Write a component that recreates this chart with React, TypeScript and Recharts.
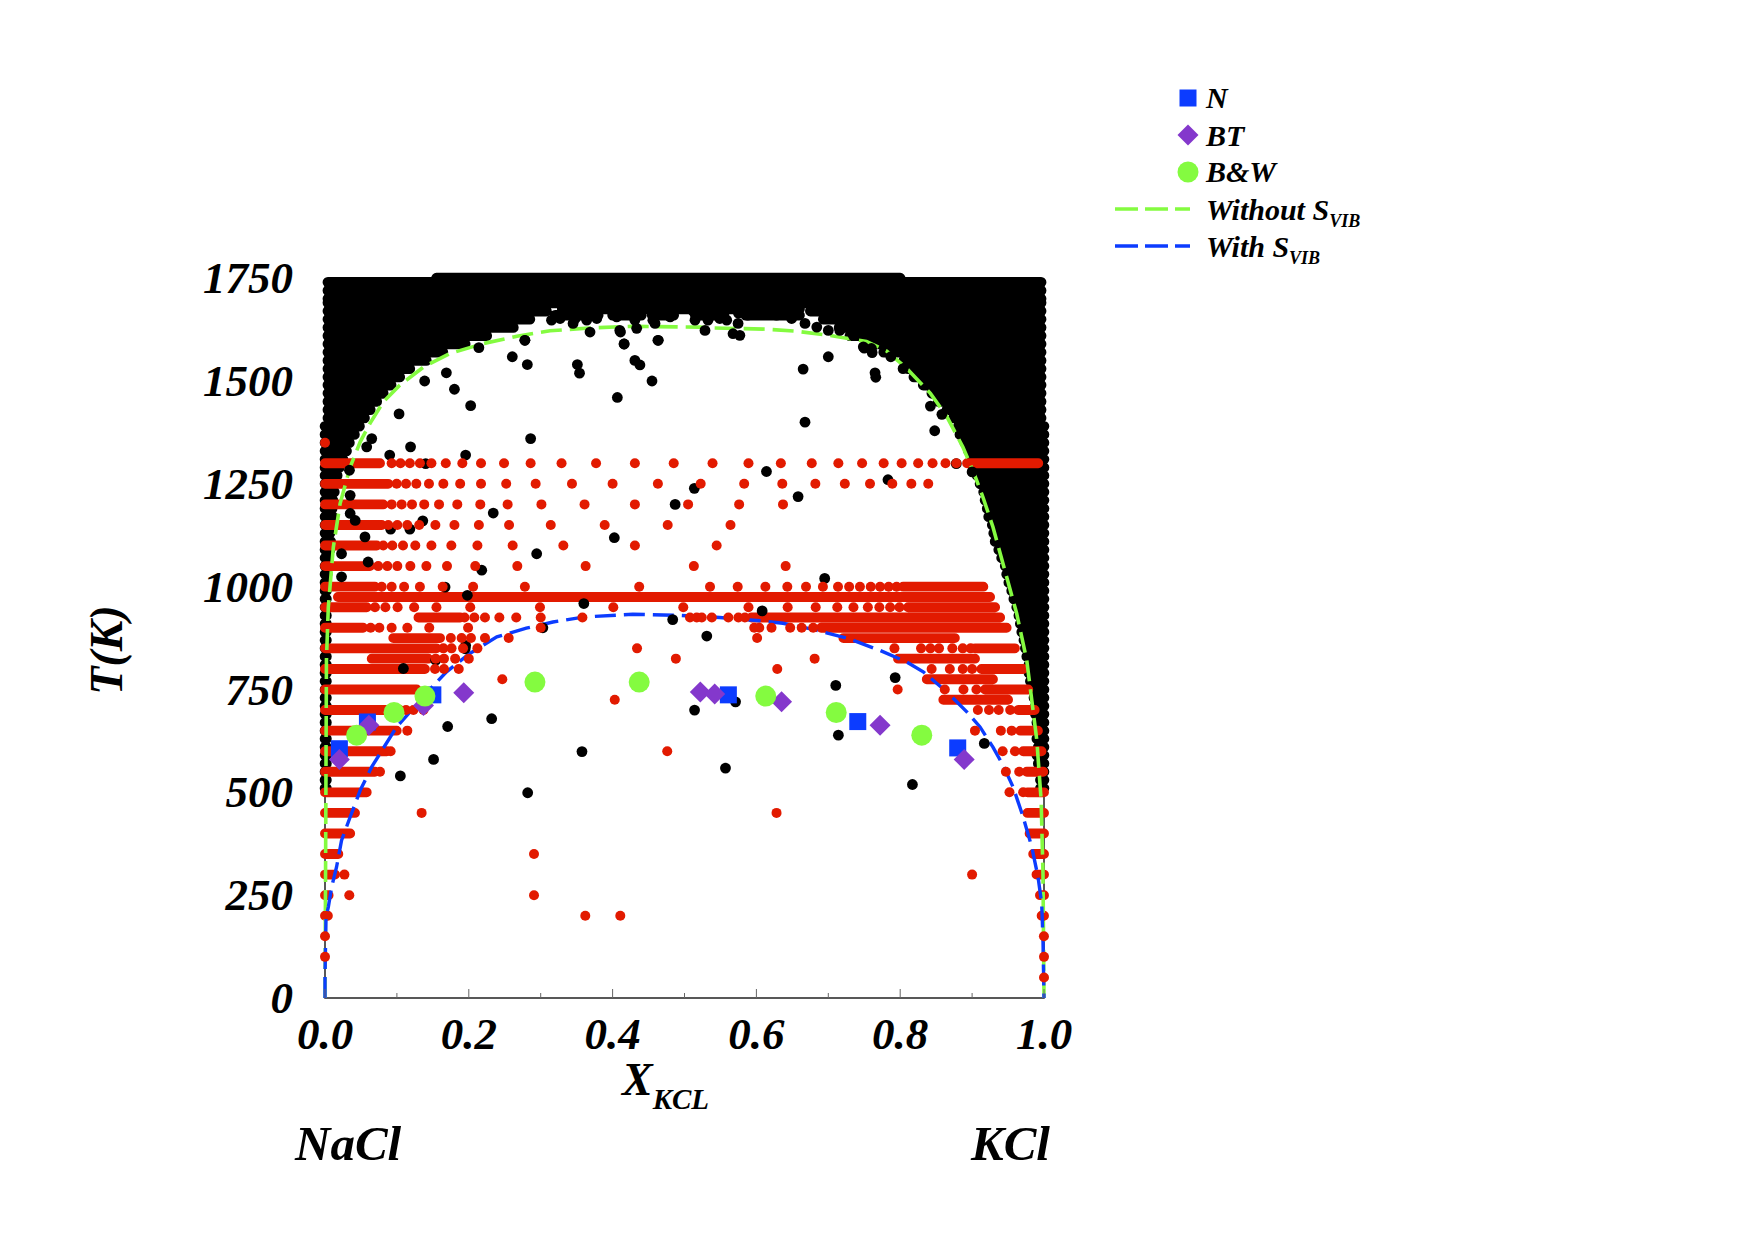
import React from 'react';
import { ComposedChart, Line, Scatter, XAxis, YAxis } from 'recharts';

const FONT = '"Liberation Serif", serif';
const BLACK = '#000000';
const RED = '#e21a00';
const BLUE = '#0c3cff';
const PURPLE = '#8438cc';
const GREEN = '#84fb40';

const xTicks = [0, 0.1, 0.2, 0.3, 0.4, 0.5, 0.6, 0.7, 0.8, 0.9, 1];
const yTicks = [0, 250, 500, 750, 1000, 1250, 1500, 1750];

// experimental points [x, T]
const nPoints = [[0.02, 606], [0.059, 671], [0.15, 737], [0.561, 737], [0.741, 672], [0.88, 608]];
const btPoints = [[0.02, 580], [0.061, 663], [0.137, 711], [0.193, 742], [0.522, 744], [0.542, 739], [0.635, 720], [0.772, 663], [0.889, 580]];
const bwPoints = [[0.044, 639], [0.096, 694], [0.139, 734], [0.292, 768], [0.437, 768], [0.613, 734], [0.711, 694], [0.83, 639]];

// phase boundaries [x, T]
const withoutSvib = [
  [0, 0], [0.001, 400], [0.002, 821], [0.0046, 950], [0.0116, 1096], [0.021, 1202], [0.035, 1291], [0.049, 1352], [0.0626, 1397],
  [0.081, 1449], [0.104, 1490], [0.137, 1534], [0.174, 1567], [0.22, 1591], [0.267, 1609], [0.313, 1622], [0.368, 1629],
  [0.428, 1633], [0.5216, 1631], [0.54, 1629], [0.614, 1626], [0.656, 1621], [0.702, 1611], [0.753, 1596], [0.781, 1573],
  [0.809, 1531], [0.842, 1470], [0.865, 1413], [0.887, 1340], [0.901, 1283], [0.915, 1218], [0.929, 1145], [0.948, 1024],
  [0.962, 935], [0.976, 821], [0.99, 627], [0.996, 481], [0.9986, 303], [1, 0],
];
const withSvib = [
  [0, 0], [0, 51], [0.0014, 197], [0.0046, 221], [0.0093, 270], [0.016, 318], [0.023, 383], [0.035, 440], [0.049, 505],
  [0.065, 562], [0.081, 607], [0.0997, 659], [0.118, 695], [0.141, 741], [0.169, 793], [0.2, 836], [0.239, 878], [0.28, 899],
  [0.317, 914], [0.359, 926], [0.428, 933], [0.4937, 930], [0.549, 925], [0.605, 917], [0.637, 911], [0.679, 896], [0.726, 875],
  [0.772, 845], [0.809, 817], [0.832, 793], [0.865, 744], [0.893, 695], [0.911, 659], [0.929, 610], [0.943, 566], [0.957, 513],
  [0.971, 440], [0.983, 367], [0.9917, 294], [0.9968, 230], [0.9986, 140], [1, 0],
];

// black (solid phase) rows [T, end of left block, start of right block]
const blackRowsUpper = [
  [1690, 0.33, 0.656], [1670, 0.308, 0.675], [1650, 0.285, 0.693], [1630, 0.262, 0.715], [1610, 0.225, 0.73], [1590, 0.195, 0.763],
  [1570, 0.164, 0.777], [1550, 0.141, 0.805], [1530, 0.118, 0.811], [1510, 0.104, 0.819], [1490, 0.092, 0.832], [1470, 0.081, 0.844],
  [1450, 0.072, 0.853], [1430, 0.063, 0.865], [1410, 0.055, 0.874],
];
const blackRowsLower = [
  [1390, 0.048, 0.881], [1370, 0.041, 0.883], [1350, 0.034, 0.89],
  [1330, 0.03, 0.895], [1310, 0.025, 0.9], [1290, 0.02, 0.902], [1270, 0.017, 0.907], [1250, 0.015, 0.911], [1230, 0.013, 0.916],
  [1210, 0.011, 0.918], [1190, 0.01, 0.921], [1170, 0.011, 0.923], [1150, 0.009, 0.928], [1130, 0.007, 0.93], [1110, 0.008, 0.932],
  [1090, 0.007, 0.937], [1070, 0.005, 0.941], [1050, 0.005, 0.946], [1030, 0.003, 0.948], [1010, 0.002, 0.951], [990, 0.002, 0.955],
  [970, 0.002, 0.958], [950, 0.002, 0.962], [930, 0.002, 0.965], [910, 0.002, 0.967], [890, 0.002, 0.969], [870, 0.002, 0.972],
  [850, 0.002, 0.974], [830, 0.002, 0.976], [810, 0.002, 0.979], [790, 0.002, 0.979], [770, 0.002, 0.981], [750, 0.002, 0.983],
  [730, 0.002, 0.986], [710, 0.002, 0.988], [690, 0.002, 0.988], [670, 0.002, 0.99], [650, 0.002, 0.99], [630, 0.002, 0.99],
  [610, 0.002, 0.992], [590, 0.002, 0.99], [570, 0.002, 0.992], [550, 0.002, 0.995], [530, 0.002, 0.995], [510, 0.002, 0.995],
];
// rows that run across the top [T, from, to]
const blackTop = [
  [1750, 0.155, 0.8], [1740, 0.004, 0.996], [1720, 0.004, 0.996], [1700, 0.004, 0.996], [1685, 0.33, 0.66], [1675, 0.33, 0.66],
  [1660, 0.32, 0.38], [1660, 0.4, 0.44], [1660, 0.455, 0.485], [1660, 0.515, 0.555], [1660, 0.585, 0.66],
];

const blackDots = [
  [0.103, 1420], [0.1386, 1500], [0.1688, 1520], [0.18, 1480], [0.2026, 1440], [0.214, 1581], [0.2605, 1559], [0.2814, 1540], [0.278, 1599],
  [0.351, 1540], [0.354, 1519], [0.431, 1550], [0.438, 1539], [0.416, 1590], [0.4636, 1599], [0.4548, 1500], [0.4066, 1460], [0.411, 1619],
  [0.286, 1360], [0.119, 1340], [0.09, 1320], [0.058, 1340], [0.065, 1360], [0.1956, 1320], [0.14, 1299], [0.034, 1283], [0.035, 1222],
  [0.035, 1178], [0.042, 1161], [0.136, 1160], [0.0913, 1140], [0.118, 1140], [0.0556, 1121], [0.5137, 1239], [0.487, 1200], [0.234, 1179],
  [0.4024, 1119], [0.2944, 1080], [0.06, 1060], [0.023, 1080], [0.218, 1040], [0.023, 1024], [0.167, 999], [0.198, 979], [0.36, 959],
  [0.4836, 920], [0.303, 900], [0.195, 849], [0.154, 821], [0.109, 801], [0.1956, 857],
  [0.665, 1529], [0.7, 1559], [0.75, 1580], [0.761, 1569], [0.765, 1520], [0.766, 1509], [0.787, 1559], [0.804, 1530], [0.842, 1439],
  [0.858, 1419], [0.848, 1379], [0.6676, 1400], [0.614, 1280], [0.658, 1219], [0.783, 1260], [0.878, 1299], [0.695, 1020], [0.608, 941],
  [0.531, 880], [0.9, 1279],
  [0.1706, 660], [0.2318, 679], [0.151, 580], [0.1048, 540], [0.3574, 599], [0.2819, 499], [0.514, 700], [0.571, 720], [0.557, 559],
  [0.7104, 760], [0.714, 639], [0.793, 779], [0.817, 519], [0.917, 619],
];

// lumps hanging from the black block down to the upper boundary
const blackLumps = [
  [0.278, 1599], [0.315, 1648], [0.327, 1652], [0.348, 1652], [0.345, 1640], [0.364, 1648], [0.3686, 1619], [0.4057, 1656], [0.41, 1623],
  [0.416, 1590], [0.431, 1648], [0.4335, 1628], [0.463, 1599], [0.456, 1648], [0.459, 1640], [0.48, 1656], [0.505, 1680], [0.5146, 1648],
  [0.4196, 1676], [0.3547, 1672], [0.378, 1652], [0.475, 1672], [0.456, 1672], [0.438, 1676], [0.4, 1667], [0.5285, 1623], [0.5327, 1648],
  [0.5675, 1615], [0.577, 1611], [0.5745, 1640], [0.549, 1652], [0.5587, 1648], [0.588, 1660], [0.605, 1668], [0.628, 1660], [0.649, 1652],
  [0.6676, 1640], [0.684, 1631], [0.7, 1623], [0.716, 1623], [0.7346, 1611], [0.7487, 1583], [0.76, 1579], [0.5216, 1688], [0.554, 1684],
  [0.3315, 1680], [0.39, 1685], [0.422, 1684], [0.4706, 1684], [0.49, 1680], [0.512, 1670], [0.575, 1665], [0.535, 1672],
];

// dense red runs [T, from, to]
const redRuns = [
  [1300, 0, 0.0765], [1300, 0.893, 0.992], [1250, 0, 0.088], [1200, 0, 0.081], [1150, 0, 0.079], [1100, 0, 0.072], [1050, 0, 0.0626],
  [1000, 0, 0.0695], [1000, 0.804, 0.9156], [975, 0.018, 0.925], [950, 0, 0.058], [950, 0.811, 0.932], [925, 0.13, 0.188], [925, 0.593, 0.939],
  [900, 0, 0.053], [900, 0.69, 0.948], [875, 0.095, 0.16], [875, 0.721, 0.876], [850, 0, 0.155], [850, 0.904, 0.9595], [825, 0.065, 0.1437],
  [825, 0.797, 0.904], [800, 0, 0.139], [800, 0.913, 0.971], [775, 0.837, 0.929], [750, 0, 0.1275], [750, 0.918, 0.978], [725, 0.86, 0.95],
  [700, 0, 0.104], [700, 0.964, 0.987], [650, 0, 0.0997], [650, 0.967, 0.9915], [600, 0, 0.086], [600, 0.971, 0.9965], [550, 0, 0.0695],
  [550, 0.976, 0.999], [500, 0, 0.058], [500, 0.977, 1], [450, 0, 0.0417], [450, 0.977, 1], [400, 0, 0.035], [400, 0.98, 1], [350, 0, 0.0185],
  [350, 0.985, 1], [300, 0, 0.014], [300, 0.9896, 1], [250, 0, 0.005], [250, 0.9944, 1], [200, 0, 0.004], [200, 0.9967, 1],
];

// single red dots along each temperature row
const red1350 = [0];
const red1300 = [0.0927, 0.105, 0.118, 0.132, 0.148, 0.168, 0.191, 0.217, 0.249, 0.286, 0.329, 0.377, 0.431, 0.485, 0.539, 0.589, 0.634, 0.677, 0.714, 0.747, 0.777, 0.802, 0.825, 0.845, 0.863, 0.878];
const red1250 = [0.0997, 0.1127, 0.127, 0.1446, 0.1646, 0.188, 0.217, 0.252, 0.293, 0.3435, 0.4, 0.463, 0.5225, 0.583, 0.636, 0.682, 0.723, 0.758, 0.789, 0.8155, 0.839];
const red1200 = [0.0927, 0.1066, 0.121, 0.138, 0.1586, 0.184, 0.216, 0.254, 0.301, 0.361, 0.431, 0.505, 0.576, 0.637];
const red1150 = [0.088, 0.1006, 0.1145, 0.131, 0.1535, 0.18, 0.214, 0.256, 0.314, 0.389, 0.4766, 0.564];
const red1100 = [0.081, 0.0936, 0.1085, 0.1256, 0.148, 0.1757, 0.212, 0.261, 0.3315, 0.431, 0.5447];
const red1050 = [0.074, 0.0867, 0.1006, 0.1187, 0.141, 0.1697, 0.209, 0.2675, 0.3625, 0.513, 0.6407];
const red1000 = [0.0788, 0.0927, 0.11, 0.132, 0.1637, 0.206, 0.278, 0.437, 0.5355, 0.574, 0.6125, 0.643, 0.669, 0.6925, 0.7135, 0.729, 0.744, 0.759, 0.772, 0.784, 0.795];
const red950 = [0.0695, 0.084, 0.101, 0.124, 0.155, 0.202, 0.299, 0.401, 0.4983, 0.589, 0.6435, 0.6825, 0.7125, 0.735, 0.755, 0.771, 0.786, 0.799];
const red925 = [0.194, 0.2077, 0.2225, 0.2425, 0.266, 0.3, 0.358, 0.5076, 0.517, 0.524, 0.538, 0.561, 0.575, 0.584];
const red900 = [0.0635, 0.0756, 0.0927, 0.1145, 0.145, 0.199, 0.3, 0.597, 0.604, 0.621, 0.647, 0.663, 0.679];
const red875 = [0.175, 0.19, 0.203, 0.2225, 0.2555, 0.601];
const red850 = [0.1646, 0.176, 0.192, 0.212, 0.434, 0.792, 0.829, 0.842, 0.854, 0.8725, 0.887, 0.898];
const red825 = [0.154, 0.1655, 0.181, 0.2, 0.488, 0.681];
const red800 = [0.153, 0.1655, 0.186, 0.629, 0.8437, 0.869, 0.887, 0.9];
const red775 = [0.2466];
const red750 = [0.7965, 0.862, 0.888, 0.906];
const red725 = [0.403];
const red700 = [0.1127, 0.123, 0.137, 0.908, 0.9235, 0.937, 0.953];
const red650 = [0.1145, 0.904, 0.94, 0.955];
const red600 = [0.0913, 0.476, 0.9425, 0.9596];
const red550 = [0.0765, 0.947, 0.9655];
const red500 = [0.952, 0.971];
const red450 = [0.1344, 0.628];
const red350 = [0.2907];
const red300 = [0.027, 0.9];
const red250 = [0.0338, 0.2907];
const red200 = [0.362, 0.4107];
const red150 = [0, 0.9999];
const red100 = [0, 1];
const red50 = [1];

const redRows: [number, number[]][] = [
  [1350, red1350], [1300, red1300], [1250, red1250], [1200, red1200], [1150, red1150], [1100, red1100], [1050, red1050], [1000, red1000],
  [950, red950], [925, red925], [900, red900], [875, red875], [850, red850], [825, red825], [800, red800], [775, red775], [750, red750],
  [725, red725], [700, red700], [650, red650], [600, red600], [550, red550], [500, red500], [450, red450], [350, red350], [300, red300],
  [250, red250], [200, red200], [150, red150], [100, red100], [50, red50],
];

const toPoints = (list: number[][]) => list.map(([x, t]) => ({ x, t }));

// each run becomes a round-capped stroke, a null breaks the path between runs
const runsToPath = (runs: number[][]) =>
  runs.flatMap(([t, from, to]) => [{ x: from, t }, { x: to, t }, { x: to, t: null }]);

const blackBands = runsToPath([
  ...blackTop,
  ...blackRowsUpper.flatMap(([t, left, right]) => [[t, 0.004, left], [t, right, 0.996]]),
  ...blackRowsLower.flatMap(([t, left, right]) => [[t, 0, left], [t, right, 1]]),
]);
const redBands = runsToPath(redRuns);
const redDots = redRows.flatMap(([t, xs]) => xs.map((x) => ({ x, t })));
const frame = toPoints([[0, 1740], [0, 0], [1, 0], [1, 1740]]);

const dot = (r: number, fill: string) => (props: any) => <circle cx={props.cx} cy={props.cy} r={r} fill={fill} />;

const square = (props: any) => <rect x={props.cx - 8.5} y={props.cy - 8.5} width={17} height={17} fill={BLUE} />;

const diamond = (props: any) => (
  <path d={`M${props.cx} ${props.cy - 10.5}L${props.cx + 10.5} ${props.cy}L${props.cx} ${props.cy + 10.5}L${props.cx - 10.5} ${props.cy}Z`} fill={PURPLE} />
);

const XTick = (props: any) => {
  const { x, y, payload } = props;
  const major = Math.round(payload.value * 10) % 2 === 0;
  return (
    <g>
      <line x1={x} x2={x} y1={y} y2={y - (major ? 9 : 5)} stroke="#666" strokeWidth={1} />
      {major && (
        <text x={x} y={y + 51} textAnchor="middle" fontFamily={FONT} fontWeight="bold" fontStyle="italic" fontSize={45} fill="#000">
          {payload.value.toFixed(1)}
        </text>
      )}
    </g>
  );
};

const YTick = (props: any) => {
  const { x, y, payload } = props;
  return (
    <text x={x - 32} y={y + 15} textAnchor="end" fontFamily={FONT} fontWeight="bold" fontStyle="italic" fontSize={45} fill="#000">
      {payload.value}
    </text>
  );
};

const Overlay = () => {
  const text = { fontFamily: FONT, fontWeight: 'bold', fontStyle: 'italic', fill: '#000' } as const;
  return (
    <svg width={1755} height={1240} style={{ position: 'absolute', left: 0, top: 0, pointerEvents: 'none' }}>
      <text {...text} x={622} y={1095} fontSize={46}>
        X<tspan fontSize={29} dy={14}>KCL</tspan>
      </text>
      <text {...text} fontSize={46} textAnchor="middle" transform="translate(122 650) rotate(-90)">T(K)</text>
      <text {...text} x={295} y={1160} fontSize={49}>NaCl</text>
      <text {...text} x={971} y={1160} fontSize={49}>KCl</text>

      <rect x={1179.5} y={89.5} width={17} height={17} fill={BLUE} />
      <path d="M1188 124.5L1198.5 135L1188 145.5L1177.5 135Z" fill={PURPLE} />
      <circle cx={1188} cy={172} r={10.5} fill={GREEN} />
      <line x1={1115} x2={1190} y1={209} y2={209} stroke={GREEN} strokeWidth={3.5} strokeDasharray="23 7" />
      <line x1={1115} x2={1190} y1={246} y2={246} stroke={BLUE} strokeWidth={3.5} strokeDasharray="23 7" />
      <text {...text} x={1206} y={108} fontSize={30}>N</text>
      <text {...text} x={1206} y={146} fontSize={30}>BT</text>
      <text {...text} x={1206} y={182} fontSize={30}>B&amp;W</text>
      <text {...text} x={1206} y={220} fontSize={30}>
        Without S<tspan fontSize={18} dy={7}>VIB</tspan>
      </text>
      <text {...text} x={1206} y={257} fontSize={30}>
        With S<tspan fontSize={18} dy={7}>VIB</tspan>
      </text>
    </svg>
  );
};

export default function App() {
  return (
    <div style={{ position: 'absolute', left: 0, top: 0, width: 1755, height: 1240, background: '#fff' }}>
      <ComposedChart width={1755} height={1240} margin={{ top: 272, right: 711, bottom: 182, left: 225 }}>
        <XAxis
          dataKey="x"
          type="number"
          domain={[0, 1]}
          ticks={xTicks}
          height={60}
          tickSize={0}
          tickMargin={0}
          axisLine={false}
          tickLine={false}
          interval={0}
          tick={XTick}
        />
        <YAxis
          dataKey="t"
          type="number"
          domain={[0, 1765]}
          ticks={yTicks}
          width={100}
          tickSize={0}
          tickMargin={0}
          axisLine={false}
          tickLine={false}
          interval={0}
          tick={YTick}
        />
        <Line data={frame} dataKey="t" type="linear" stroke="#222" strokeWidth={1.5} dot={false} isAnimationActive={false} />
        <Line data={blackBands} dataKey="t" type="linear" stroke={BLACK} strokeWidth={10.6} strokeLinecap="round" dot={false} isAnimationActive={false} />
        <Scatter data={toPoints(blackLumps)} dataKey="t" shape={dot(5.4, BLACK)} isAnimationActive={false} />
        <Scatter data={toPoints(blackDots)} dataKey="t" shape={dot(5.4, BLACK)} isAnimationActive={false} />
        <Line data={redBands} dataKey="t" type="linear" stroke={RED} strokeWidth={9.9} strokeLinecap="round" dot={false} isAnimationActive={false} />
        <Scatter data={redDots} dataKey="t" shape={dot(5, RED)} isAnimationActive={false} />
        <Scatter data={toPoints(nPoints)} dataKey="t" shape={square} isAnimationActive={false} />
        <Scatter data={toPoints(btPoints)} dataKey="t" shape={diamond} isAnimationActive={false} />
        <Scatter data={toPoints(bwPoints)} dataKey="t" shape={dot(10.5, GREEN)} isAnimationActive={false} />
        <Line data={toPoints(withoutSvib)} dataKey="t" type="linear" stroke={GREEN} strokeWidth={3.6} strokeDasharray="21 8" dot={false} isAnimationActive={false} />
        <Line data={toPoints(withSvib)} dataKey="t" type="linear" stroke={BLUE} strokeWidth={3.4} strokeDasharray="21 8" dot={false} isAnimationActive={false} />
      </ComposedChart>
      <Overlay />
    </div>
  );
}
